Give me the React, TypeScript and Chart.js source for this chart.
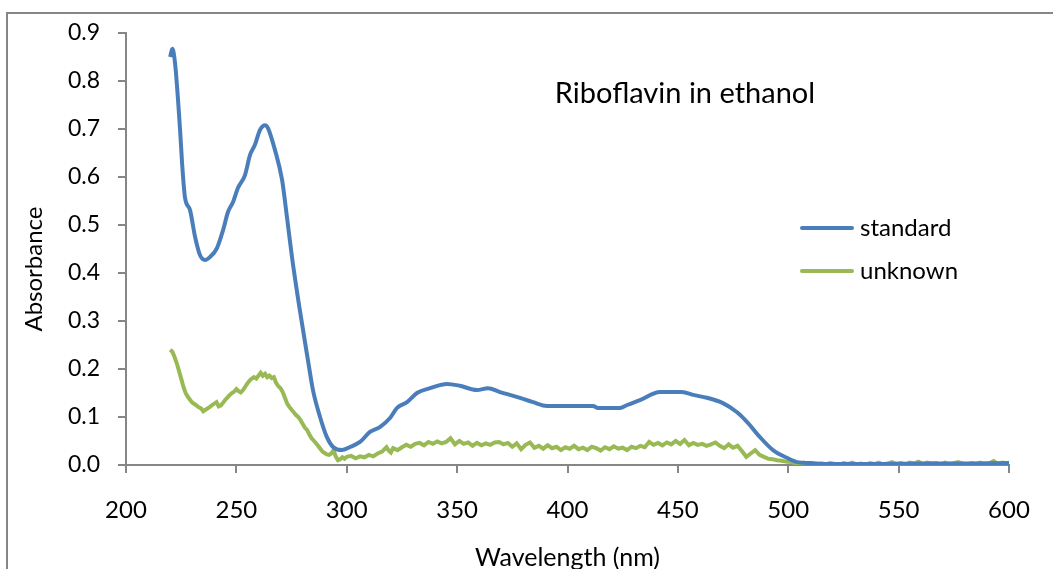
import React, { useEffect, useRef } from "react";
import { Chart, registerables } from "chart.js";

Chart.register(...registerables);

const chartTitle = "Riboflavin in ethanol";
const xAxisTitle = "Wavelength (nm)";
const yAxisTitle = "Absorbance";
const seriesNames = ["standard", "unknown"];
const seriesColors = ["#4A7EBB", "#98B954"];

const xTickMin = 200;
const xTickMax = 600;
const xTickStep = 50;
const yTickMin = 0;
const yTickMax = 0.9;
const yTickStep = 0.1;

// standard (blue)
const standardNm = [
  220, 221, 222.2, 224.5, 225.4, 226.7, 229, 231.3, 233.5, 235.8, 238, 241.2, 244, 246.2, 248.5,
  250.7, 253.9, 256.2, 258.4, 260.7, 263, 264.3, 267.5, 270.7, 272.9, 275.2, 278.5, 282.4, 284.7,
  287.9, 291, 293.8, 297.8, 301.5, 306, 310.5, 315, 319.6, 322.8, 327.3, 331.8, 337.7, 345.4, 351.3,
  359, 364, 369.4, 377, 384.4, 390.7, 400, 411.6, 413.8, 423.8, 427, 432.8, 441.9, 451.9, 456.9,
  463.2, 470.4, 476.8, 481.3, 487.2, 493.1, 499.4, 504, 510, 520, 540, 560, 580, 600, 602,
];
const standardAbs = [
  0.85, 0.867, 0.838, 0.698, 0.629, 0.558, 0.531, 0.475, 0.4375, 0.427, 0.433, 0.452, 0.49, 0.527,
  0.548, 0.577, 0.604, 0.646, 0.667, 0.698, 0.708, 0.702, 0.656, 0.594, 0.517, 0.433, 0.33, 0.219,
  0.156, 0.1, 0.058, 0.0375, 0.031, 0.0375, 0.048, 0.069, 0.079, 0.098, 0.119, 0.131, 0.15, 0.16,
  0.169, 0.165, 0.156, 0.16, 0.152, 0.142, 0.131, 0.123, 0.123, 0.123, 0.119, 0.119, 0.125, 0.135,
  0.152, 0.152, 0.146, 0.14, 0.129, 0.11, 0.09, 0.058, 0.031, 0.015, 0.006, 0.004, 0.002, 0.002,
  0.003, 0.003, 0.004, 0.004,
];

// unknown (green)
const unknownNm = [
  220, 221, 222, 223, 224, 225, 226, 227, 228, 229, 230, 231, 232, 233, 234, 235, 236, 237, 238, 239,
  240, 241, 242, 243, 244, 245, 246, 247, 248, 249, 250, 251, 252, 253, 254, 255, 256, 257, 258, 259,
  260, 261, 262, 263, 264, 265, 266, 267, 268, 269, 270, 271, 272, 273, 274, 275, 276, 277, 278, 279,
  280, 281, 282, 283, 284, 285, 286, 287, 288, 289, 290, 291, 292, 293, 294, 295, 296, 297, 298, 299,
  300, 302, 304, 306, 308, 310, 312, 314, 316, 318, 319, 320, 321, 323, 325, 327, 329, 331, 333, 335,
  337, 339, 341, 343, 345, 347, 349, 351, 353, 355, 357, 359, 361, 363, 365, 367, 369, 371, 373, 375,
  377, 379, 381, 383, 385, 387, 389, 391, 393, 395, 397, 399, 401, 403, 405, 407, 409, 411, 413, 415,
  417, 419, 421, 423, 425, 427, 429, 431, 433, 435, 437, 439, 441, 443, 445, 447, 449, 451, 453, 455,
  457, 459, 461, 463, 465, 467, 469, 471, 473, 475, 477, 479, 481, 483, 485, 487, 489, 491, 493, 495,
  497, 499, 501, 503, 505, 507, 509, 511, 513, 515, 517, 519, 521, 523, 525, 527, 529, 531, 533, 535,
  537, 539, 541, 543, 545, 547, 549, 551, 553, 555, 557, 559, 561, 563, 565, 567, 569, 571, 573, 575,
  577, 579, 581, 583, 585, 587, 589, 591, 593, 595, 597, 599, 601, 602,
];
const unknownAbs = [
  0.24, 0.236, 0.225, 0.212, 0.196, 0.18, 0.163, 0.15, 0.142, 0.136, 0.13, 0.127, 0.124, 0.12, 0.118,
  0.112, 0.115, 0.118, 0.121, 0.125, 0.128, 0.131, 0.122, 0.124, 0.13, 0.136, 0.141, 0.146, 0.15,
  0.153, 0.158, 0.154, 0.151, 0.156, 0.163, 0.17, 0.176, 0.18, 0.183, 0.18, 0.186, 0.192, 0.186, 0.19,
  0.183, 0.186, 0.181, 0.183, 0.171, 0.164, 0.16, 0.152, 0.14, 0.128, 0.121, 0.115, 0.11, 0.104, 0.1,
  0.094, 0.086, 0.078, 0.073, 0.064, 0.056, 0.051, 0.046, 0.04, 0.034, 0.028, 0.025, 0.022, 0.021,
  0.024, 0.031, 0.018, 0.01, 0.012, 0.016, 0.013, 0.017, 0.019, 0.014, 0.018, 0.016, 0.021, 0.018,
  0.024, 0.028, 0.037, 0.03, 0.026, 0.035, 0.031, 0.037, 0.042, 0.038, 0.044, 0.046, 0.041, 0.048,
  0.044, 0.049, 0.045, 0.048, 0.056, 0.043, 0.05, 0.044, 0.047, 0.04, 0.046, 0.041, 0.045, 0.042,
  0.047, 0.048, 0.043, 0.046, 0.038, 0.045, 0.033, 0.042, 0.047, 0.036, 0.04, 0.034, 0.041, 0.035,
  0.038, 0.031, 0.037, 0.034, 0.04, 0.033, 0.036, 0.031, 0.038, 0.035, 0.03, 0.037, 0.033, 0.039,
  0.034, 0.036, 0.031, 0.038, 0.035, 0.04, 0.037, 0.048, 0.042, 0.046, 0.041, 0.047, 0.043, 0.05,
  0.044, 0.052, 0.041, 0.046, 0.042, 0.044, 0.04, 0.043, 0.047, 0.04, 0.035, 0.043, 0.036, 0.04,
  0.029, 0.017, 0.024, 0.031, 0.021, 0.017, 0.013, 0.012, 0.01, 0.009, 0.007, 0.006, 0.004, 0.002,
  0.005, 0.001, 0.004, 0.0, 0.003, 0.001, 0.004, 0.002, -0.001, 0.004, 0.002, 0.005, 0.001, 0.003,
  0.0, 0.004, 0.002, 0.005, 0.001, 0.003, 0.006, 0.002, 0.004, 0.001, 0.005, 0.003, 0.007, 0.002,
  0.005, 0.003, 0.004, 0.001, 0.005, 0.002, 0.004, 0.006, 0.003, 0.001, 0.004, 0.002, 0.005, 0.001,
  0.003, 0.008, 0.002, 0.005, 0.003, 0.006, 0.005,
];

const FONT = "Lato, 'Liberation Sans', sans-serif";
const AXIS_GRAY = "#868686";

const decorPlugin = {
  id: "decor",
  afterDraw(chart: any) {
    const ctx = chart.ctx as CanvasRenderingContext2D;
    const { width, height } = chart;
    ctx.save();
    // outer frame (left + top visible)
    ctx.strokeStyle = AXIS_GRAY;
    ctx.lineWidth = 2;
    ctx.beginPath();
    ctx.moveTo(7, height);
    ctx.lineTo(7, 13);
    ctx.lineTo(width, 13);
    ctx.stroke();

    // chart title inside plot
    ctx.fillStyle = "#000";
    ctx.font = `29px ${FONT}`;
    ctx.textAlign = "center";
    ctx.textBaseline = "middle";
    ctx.fillText(chartTitle, 685, 94);

    // y-axis title
    ctx.save();
    ctx.translate(34, 269);
    ctx.rotate(-Math.PI / 2);
    ctx.font = `24px ${FONT}`;
    ctx.fillText(yAxisTitle, 0, 0);
    ctx.restore();

    // legend
    const legendY = [228, 271];
    seriesNames.forEach((name, i) => {
      ctx.strokeStyle = seriesColors[i];
      ctx.lineWidth = 4;
      ctx.lineCap = "round";
      ctx.beginPath();
      ctx.moveTo(802, legendY[i]);
      ctx.lineTo(852, legendY[i]);
      ctx.stroke();
      ctx.fillStyle = "#000";
      ctx.font = `24px ${FONT}`;
      ctx.textAlign = "left";
      ctx.textBaseline = "middle";
      ctx.fillText(name, 860, legendY[i]);
    });
    ctx.restore();
  },
};

export default function App() {
  const ref = useRef<HTMLCanvasElement>(null);

  useEffect(() => {
    if (!ref.current) return;
    const chart = new Chart(ref.current, {
      type: "line",
      data: {
        datasets: [
          {
            label: seriesNames[0],
            data: standardNm.map((x, i) => ({ x, y: standardAbs[i] })),
            borderColor: seriesColors[0],
            borderWidth: 4,
            pointRadius: 0,
            cubicInterpolationMode: "monotone",
            fill: false,
          },
          {
            label: seriesNames[1],
            data: unknownNm.map((x, i) => ({ x, y: unknownAbs[i] })),
            borderColor: seriesColors[1],
            borderWidth: 4,
            pointRadius: 0,
            tension: 0,
            fill: false,
          },
        ],
      },
      options: {
        animation: false,
        responsive: false,
        maintainAspectRatio: false,
        layout: { padding: { left: 0, right: 44, top: 33, bottom: 0 } },
        plugins: {
          legend: { display: false },
          title: { display: false },
          tooltip: { enabled: false },
        },
        scales: {
          x: {
            type: "linear",
            min: xTickMin,
            max: xTickMax,
            ticks: {
              stepSize: xTickStep,
              padding: 23,
              color: "#000",
              font: { family: FONT, size: 24 },
              maxRotation: 0,
            },
            grid: {
              drawOnChartArea: false,
              drawTicks: true,
              tickLength: 8,
              color: AXIS_GRAY,
              lineWidth: 2,
            },
            border: { display: true, color: AXIS_GRAY, width: 2 },
            title: {
              display: true,
              text: xAxisTitle,
              color: "#000",
              font: { family: FONT, size: 25 },
              padding: { top: 0, bottom: -4 },
            },
            afterFit: (s: any) => {
              s.height = 104;
            },
          },
          y: {
            type: "linear",
            min: yTickMin,
            max: yTickMax,
            ticks: {
              stepSize: yTickStep,
              padding: 18,
              color: "#000",
              font: { family: FONT, size: 23 },
              callback: (v: any) => Number(v).toFixed(1),
            },
            grid: {
              drawOnChartArea: false,
              drawTicks: true,
              tickLength: 8,
              color: AXIS_GRAY,
              lineWidth: 2,
            },
            border: { display: true, color: AXIS_GRAY, width: 2 },
            afterFit: (s: any) => {
              s.width = 126;
            },
          },
        },
      },
      plugins: [decorPlugin],
    });
    return () => chart.destroy();
  }, []);

  return (
    <div style={{ position: "absolute", left: 0, top: 0, width: 1053, height: 569, background: "#fff" }}>
      <canvas ref={ref} width={1053} height={569} style={{ width: 1053, height: 569, display: "block" }} />
    </div>
  );
}
